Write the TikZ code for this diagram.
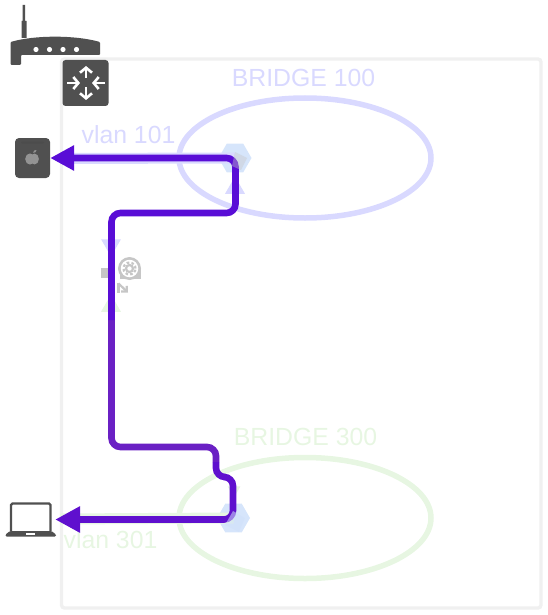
\documentclass[tikz,border=0pt]{standalone}
\usepackage{fontspec}
\setmainfont{Liberation Sans}
\usetikzlibrary{arrows.meta,shapes.geometric}
\definecolor{dark}{HTML}{505050}
\definecolor{flowA}{HTML}{590DD6}
\definecolor{flowB}{HTML}{6A20C4}
\definecolor{flowC}{HTML}{5F10CE}
\definecolor{blueL}{HTML}{D9D9FF}
\definecolor{greenL}{HTML}{E7F6E2}
\definecolor{frameC}{HTML}{F0F0F0}
\definecolor{hexC}{HTML}{CFE0FA}
\definecolor{gearC}{HTML}{C6C6C6}
\tikzset{
  lbl/.style={font=\fontsize{24.8}{28}\selectfont,inner sep=0pt},
  hub/.style={regular polygon,regular polygon sides=6,minimum size=33pt,inner sep=0pt,fill=hexC,opacity=.85},
  flow/.style={line width=6.6pt,rounded corners=9pt},
  band/.style={line width=11pt},
  tri/.style={regular polygon,regular polygon sides=3,minimum size=23pt,inner sep=0pt,shape border rotate=#1},
  whitearrow/.style={white,line width=2.6pt,-{Straight Barb[length=5pt,width=12pt]}},
  icon/.style={inner sep=0pt,minimum width=0pt}
}
\begin{document}
\begin{tikzpicture}[x=1pt,y=-1pt]
\useasboundingbox (0,0) rectangle (548,615);
% frame
\draw[frameC,line width=3.4pt,rounded corners=3pt] (61.5,59) rectangle (541,608);
% ellipses
\node[ellipse,draw=blueL,line width=5.5pt,minimum width=252pt,minimum height=120pt,inner sep=0pt] (br100) at (305,158) {};
\node[ellipse,draw=greenL,line width=5.5pt,minimum width=252pt,minimum height=121pt,inner sep=0pt] (br300) at (305,518) {};
\node[lbl,text=blueL] (t100) at (303.5,78) {BRIDGE 100};
\node[lbl,text=greenL] (t300) at (305.5,437) {BRIDGE 300};
\node[lbl,text=blueL] (v101) at (128.5,135) {vlan 101};
\node[lbl,text=greenL] (v301) at (110.5,540) {vlan 301};
% hubs
\node[hub] (hubtop) at (235,158) {};
\node[hub] (hubbot) at (233.5,518) {};
% devices
\node[icon,minimum width=35pt,minimum height=40pt,fill=dark,rounded corners=4pt] (mac) at (32.5,158) {};
\fill[black!70,rounded corners=1pt] (21,141.5) rectangle (44,143.5);
\fill[gray!85] (30,159) ellipse (4.8pt and 5.6pt);
\fill[gray!85] (34.5,159) ellipse (4.4pt and 5.4pt);
\fill[gray!85] (33,152.8) .. controls (33,150.5) and (35,150) .. (36.5,150) .. controls (36.5,152) and (35,153) .. (33,152.8) -- cycle;
\node[icon,minimum width=49pt,minimum height=33pt] (laptop) at (30.5,519.5) {};
\draw[dark,line width=2.2pt,rounded corners=1.5pt] (11,531) -- (11,503.5) -- (50.5,503.5) -- (50.5,531);
\fill[dark,rounded corners=1.2pt] (5.5,536.5) -- (5.5,534.5) -- (10,531) -- (51.5,531) -- (56,534.5) -- (56,536.5) -- cycle;
\fill[white] (26,532.5) rectangle (35,534.5);
% router
\node[icon,minimum width=90pt,minimum height=28pt] (router) at (55,51) {};
\fill[dark] (21.5,38) -- (21.5,21) -- (22.5,21) -- (22.5,5) -- (25,5) -- (25,21) -- (26.5,21) -- (26.5,38) -- cycle;
\fill[dark,rounded corners=1pt] (10.5,42) .. controls (35,35) and (75,35) .. (100,42) -- (100,55) -- (21,55) -- (21,65) -- (10.5,65) -- cycle;
\foreach \px in {36,49.5,63,76.5} \fill[white] (\px,49.5) circle (2.6pt);
% switch
\node[icon,minimum width=46pt,minimum height=46pt,fill=dark,rounded corners=3pt] (switch) at (85.5,83) {};
\draw[whitearrow] (86,78) -- (86,66);
\draw[whitearrow] (86,87) -- (86,100);
\draw[whitearrow] (67,83) -- (80,83);
\draw[whitearrow] (105,83) -- (92,83);
% gear and port
\node[icon,minimum width=9pt,minimum height=10pt,fill=gearC] (port) at (105.5,273) {};
\node[circle,fill=gearC,minimum size=23pt,inner sep=0pt] (gear) at (129.5,268.5) {};
\fill[gearC] (120,268.5) rectangle (141,279);
\node[circle,fill=white,minimum size=17.5pt,inner sep=0pt] (gearin) at (129.5,268.5) {};
\node[circle,draw=gearC,fill=white,line width=2.2pt,minimum size=7pt,inner sep=0pt] (cog) at (129.5,268.5) {};
\draw[gearC,line width=2.2pt,dash pattern=on 2.6pt off 2.2pt] (129.5,268.5) circle (6pt);
\draw[gearC,line width=2.2pt] (118.5,283) -- (118.5,293);
\draw[gearC,line width=2.2pt,-{Straight Barb[length=4pt,width=8pt]}] (118.5,283.5) -- (128,292.5);
% pale bands and triangles
\coordinate (bandA) at (60,158.5);
\coordinate (bandB) at (60,519);
\draw[blueL,band] (bandA) -- (hubtop.center);
\draw[greenL,band] (bandB) -- (hubbot.center);
\node[tri=0,fill=blueL] (upA) at (235,188) {};
\node[tri=180,fill=blueL] (dnB) at (111,245) {};
\node[tri=0,fill=greenL] (upB) at (111,306) {};
\node[tri=180,fill=greenL,minimum size=15pt] (dnC) at (234,490) {};
% connector
\coordinate (c1) at (235.5,213);
\coordinate (c2) at (111.5,213);
\coordinate (m1) at (111.5,320);
\coordinate (c3) at (111.5,447);
\coordinate (c4) at (216,447);
\coordinate (m2) at (216,462);
\coordinate (c5) at (216,477);
\coordinate (c6) at (233,477);
\coordinate (c7) at (233,519.5);
\draw[flowB,flow] (m1) -- (c3) -- (c4) -- (m2);
\draw[flowC,flow,{Triangle[length=25pt,width=25pt]}-] (laptop.east) -- (c7) -- (c6) -- (c5) -- (m2);
\draw[flowA,flow,{Triangle[length=24pt,width=24pt]}-] (mac.east) -- (235.5,158) -- (c1) -- (c2) -- (m1);
% hub tint over the connector
\fill[gray!45,opacity=.4] (235,152) -- (247,158) -- (241,170) -- (232,166) -- cycle;
\fill[hexC,opacity=.55] (233,511) -- (245,518) -- (239,532) -- (225,525) -- cycle;
\end{tikzpicture}
\end{document}
